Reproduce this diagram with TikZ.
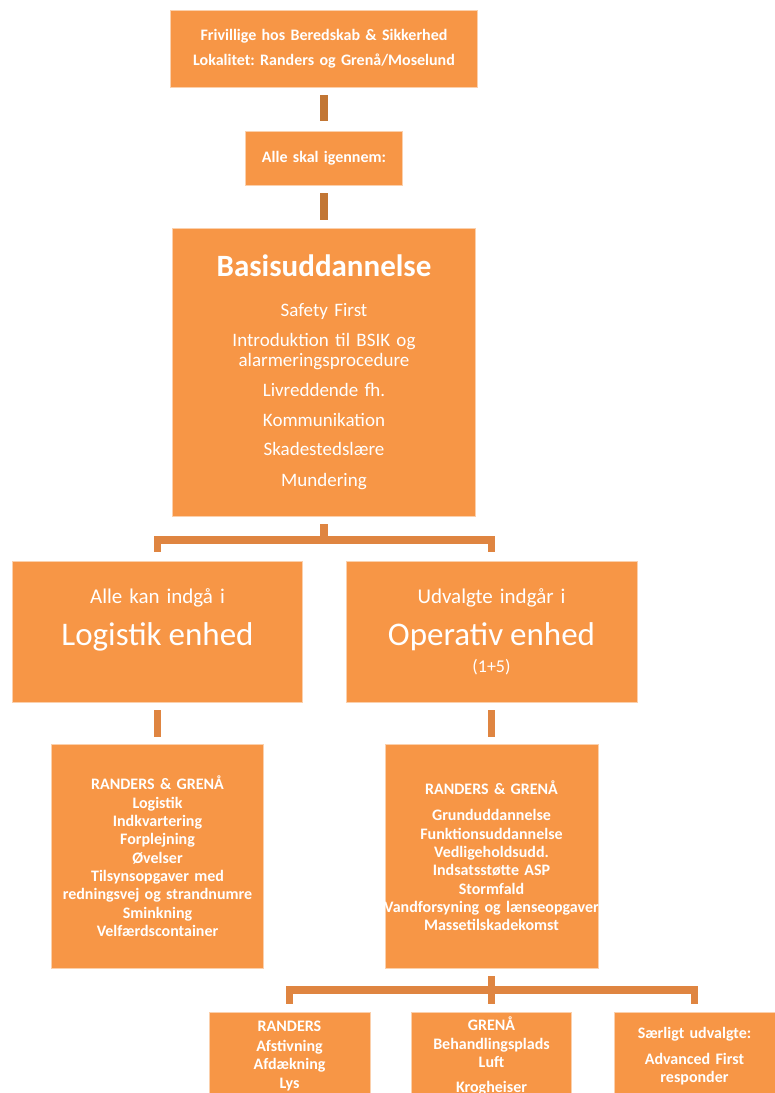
\documentclass[tikz,border=0pt]{standalone}
\usepackage{fontspec}
\setmainfont{Carlito}
\usepackage{tikz}
\usetikzlibrary{calc}
\frenchspacing
\definecolor{boxcolore}{HTML}{F79646}
\definecolor{barcolore}{HTML}{DF8541}
\definecolor{stemcolore}{HTML}{C27634}
\colorlet{edgecolor}{boxcolore!45!white}
\colorlet{textcolor}{white}
\newcommand{\fs}[2]{\fontsize{#1bp}{#2bp}\selectfont}% size, leading
\tikzstyle{orgbox} =[
    fill=boxcolore,
    draw=edgecolor,
    line width=0.8bp,
    rectangle,
    text=textcolor,
    align=center,
    inner xsep=0pt,
    inner ysep=0pt
    ]
\tikzstyle{smallbox} = [orgbox, font=\fs{16}{18.3}\bfseries]
\tikzstyle{unitbox} = [orgbox, font=\fs{21}{30}, text width=290bp, minimum height=141bp]
\tikzstyle{bar} = [
    draw=barcolore,
    line width=7.5bp,
    line join=miter
    ]
\tikzstyle{stem} = [bar, draw=stemcolore, line width=8.5bp]

\begin{document}
\begin{tikzpicture}[x=1bp,y=-1bp]
\useasboundingbox (0,0) rectangle (775,1093);

\node [smallbox, text width=307bp, minimum height=77bp] (frivillige) at (324,48.5) {%
    Frivillige hos Beredskab \& Sikkerhed\\[6.7bp]
    Lokalitet: Randers og Grenå/Moselund};
\node [smallbox, text width=157bp, minimum height=54bp] (alle) at (324,158) {Alle skal igennem:};

\node [orgbox, font=\fs{19}{19.5}, text width=303bp, minimum height=288bp] (basis) at (324,372) {%
    {\fs{31}{31}\bfseries Basisuddannelse}\\[20.5bp]
    Safety First\\[11bp]
    Introduktion til BSIK og\\
    alarmeringsprocedure\\[11bp]
    Livreddende fh.\\[10bp]
    Kommunikation\\[10bp]
    Skadestedslære\\[11bp]
    Mundering};

\node [unitbox] (logistik) at (157.5,631.5) {%
    Alle kan indgå i\\[12bp]
    {\fs{33}{33}Logistik enhed}\\[-3bp]
    {\fs{18}{18}\vphantom{(1+5)}}};
\node [unitbox, text width=291bp] (operativ) at (491.5,631.5) {%
    Udvalgte indgår i\\[12bp]
    {\fs{33}{33}Operativ enhed}\\[-3bp]
    {\fs{18}{18}(1+5)}};

\node [smallbox, text width=212bp, minimum height=224bp] (logdetail) at (157.5,856) {%
    RANDERS \& GRENÅ\\[0.7bp]
    Logistik\\
    Indkvartering\\
    Forplejning\\
    Øvelser\\
    Tilsynsopgaver med\\
    redningsvej og strandnumre\\
    Sminkning\\
    Velfærdscontainer};
\node [smallbox, text width=213bp, minimum height=224bp] (opdetail) at (491.5,856) {%
    RANDERS \& GRENÅ\\[7.7bp]
    Grunduddannelse\\
    Funktionsuddannelse\\
    Vedligeholdsudd.\\
    Indsatsstøtte ASP\\
    Stormfald\\
    \makebox[\hsize]{Vandforsyning og lænseopgaver}\\
    Massetilskadekomst};

\node [smallbox, text width=161bp, minimum height=88bp] (randers) at (289.5,1056) {%
    RANDERS\\[1.7bp]
    Afstivning\\
    Afdækning\\[0.7bp]
    Lys};
\node [smallbox, text width=160bp, minimum height=88bp] (grenaa) at (491.5,1056) {%
    GRENÅ\\
    Behandlingsplads\\
    Luft\\[6.7bp]
    Krogheiser};
\node [smallbox, text width=161bp, minimum height=88bp] (saerlig) at (694.5,1056) {%
    Særligt udvalgte:\\[7.7bp]
    Advanced First\\
    responder};

% connectors
\draw [stem] ([yshift=-8bp]frivillige.south) -- ([yshift=10bp]alle.north);
\draw [stem] ([yshift=-8bp]alle.south) -- ([yshift=8bp]basis.north);

\coordinate (split1) at ($(basis.south)+(0,23.5)$);
\draw [bar] ([yshift=-8bp]basis.south) -- (split1);
\draw [bar] ([yshift=9bp]logistik.north) |- (split1) -| ([yshift=9bp]operativ.north);

\draw [bar] ([yshift=-8bp]logistik.south) -- ([yshift=7bp]logdetail.north);
\draw [bar] ([yshift=-8bp]operativ.south) -- ([yshift=7bp]opdetail.north);

\coordinate (split2) at ($(opdetail.south)+(0,21.5)$);
\draw [bar] ([yshift=-8bp]opdetail.south) -- (split2);
\draw [bar] ([yshift=8bp]randers.north) |- (split2) -| ([yshift=8bp]saerlig.north);
\draw [bar] (split2) -- ([yshift=8bp]grenaa.north);
\end{tikzpicture}
\end{document}
